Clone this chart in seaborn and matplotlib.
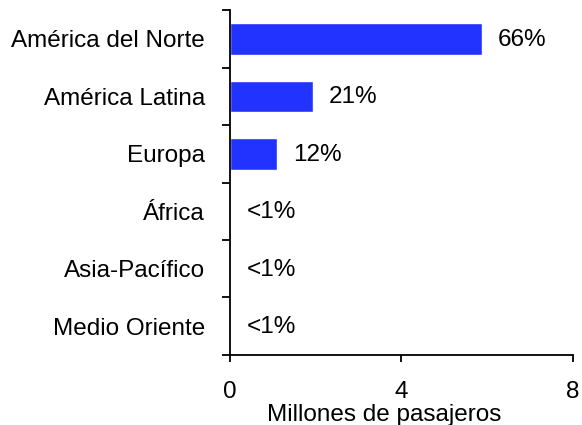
import matplotlib
matplotlib.use("Agg")
import pandas as pd
import matplotlib.pyplot as plt
import seaborn as sns

# datos
regiones = ["América del Norte", "América Latina", "Europa", "África",
            "Asia-Pacífico", "Medio Oriente"]
pasajeros = [5.87, 1.93, 1.09, 0.02, 0.02, 0.01]  # millones
etiquetas = ["66%", "21%", "12%", "<1%", "<1%", "<1%"]
ticks_x = [0, 4, 8]

df = pd.DataFrame({"region": regiones, "pasajeros": pasajeros})

sns.set_theme(style="ticks", rc={"text.color": "black", "axes.labelcolor": "black",
                                 "xtick.color": "black", "ytick.color": "black"})
plt.rcParams["font.family"] = ["Liberation Sans", "DejaVu Sans"]
FS = 17.5

fig = plt.figure(figsize=(5.82, 4.25), dpi=100)
ax = fig.add_axes([0.395, 0.165, 0.5895, 0.811])

sns.barplot(data=df, x="pasajeros", y="region", orient="h", color="#2233ff",
            saturation=1, width=0.55, ax=ax)

for i, (v, txt) in enumerate(zip(pasajeros, etiquetas)):
    ax.annotate(txt, (v, i), xytext=(16, -1), textcoords="offset pixels",
                ha="left", va="center", fontsize=FS, color="black")

ax.set_xlim(0, 8)
ax.set_ylim(5.5, -0.5)
ax.set_xticks(ticks_x)
ax.set_xticklabels([str(t) for t in ticks_x], fontsize=FS)
ax.set_yticks(range(len(regiones)))
ax.set_yticklabels(regiones, fontsize=FS)
ax.set_yticks([i + 0.5 for i in range(-1, len(regiones))], minor=True)
ax.tick_params(axis="y", which="major", length=0, pad=18)
ax.tick_params(axis="y", which="minor", length=5.8, width=1.3, color="black")
ax.tick_params(axis="x", length=5.3, width=1.3, color="black", pad=13.5)
ax.set_xlabel("Millones de pasajeros", fontsize=FS)
ax.xaxis.set_label_coords(0.449, -0.142)
ax.set_ylabel("")
sns.despine(ax=ax)
for s in ["left", "bottom"]:
    ax.spines[s].set_linewidth(1.3)
    ax.spines[s].set_color("black")

fig.savefig("out.png", dpi=100)
